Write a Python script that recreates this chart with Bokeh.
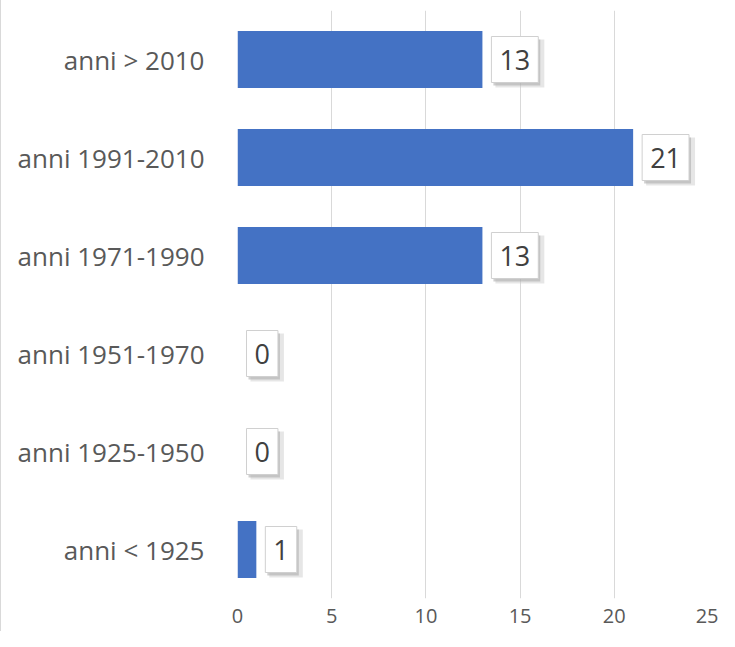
from bokeh.plotting import figure
from bokeh.models import FactorRange, ColumnDataSource
from bokeh.core.properties import value
from bokeh.embed import file_html
from bokeh.resources import INLINE

categories = ["anni < 1925", "anni 1925-1950", "anni 1951-1970",
              "anni 1971-1990", "anni 1991-2010", "anni > 2010"]
counts = [1, 0, 0, 13, 21, 13]
x_ticks = [0, 5, 10, 15, 20, 25]

src = ColumnDataSource(dict(cat=categories, val=counts,
                            lab=[str(v) for v in counts]))

p = figure(width=718, height=631, output_backend="svg", toolbar_location=None,
           y_range=FactorRange(factors=categories, range_padding=0),
           x_range=(0, 25),
           min_border_left=236, min_border_right=11,
           min_border_top=10, min_border_bottom=33)
p.styles = {"border-left": "1px solid #d9d9d9"}
p.outline_line_color = None
p.background_fill_color = "white"
p.border_fill_color = "white"

p.hbar(y="cat", right="val", left=0, height=0.58, source=src,
       fill_color="#4472C4", line_color=None)

# label shadows (soft, two layers)
p.text(x="val", y="cat", text="lab", source=src, x_offset=13, y_offset=4,
       text_align="left", text_baseline="middle",
       text_font=value("Open Sans"), text_font_size="27px",
       text_color=None, padding=(9, 14),
       background_fill_color="#c8c8c8", background_fill_alpha=0.45,
       border_line_color=None)
p.text(x="val", y="cat", text="lab", source=src, x_offset=11, y_offset=3,
       text_align="left", text_baseline="middle",
       text_font=value("Open Sans"), text_font_size="27px",
       text_color=None, padding=(8, 13),
       background_fill_color="#a8a8a8", background_fill_alpha=0.55,
       border_line_color=None)
# labels
p.text(x="val", y="cat", text="lab", source=src, x_offset=9,
       text_align="left", text_baseline="middle",
       text_font=value("Open Sans"), text_font_size="27px",
       text_color="#404040", padding=(8, 13),
       background_fill_color="white", border_line_color="#d0d0d0",
       border_line_width=1)

p.xaxis.ticker = x_ticks
p.xaxis.axis_line_color = None
p.xaxis.major_tick_line_color = None
p.xaxis.minor_tick_line_color = None
p.xaxis.major_label_text_font = "Open Sans"
p.xaxis.major_label_text_font_size = "20px"
p.xaxis.major_label_text_color = "#595959"
p.xaxis.major_label_standoff = 4

p.yaxis.axis_line_color = None
p.yaxis.major_tick_line_color = None
p.yaxis.minor_tick_line_color = None
p.yaxis.major_label_text_font = "Open Sans"
p.yaxis.major_label_text_font_size = "26px"
p.yaxis.major_label_text_color = "#595959"
p.yaxis.major_label_standoff = 27

p.xgrid.grid_line_color = "#d9d9d9"
p.xgrid.grid_line_width = 1
p.ygrid.grid_line_color = None

open("out.html", "w").write(file_html(p, INLINE))
